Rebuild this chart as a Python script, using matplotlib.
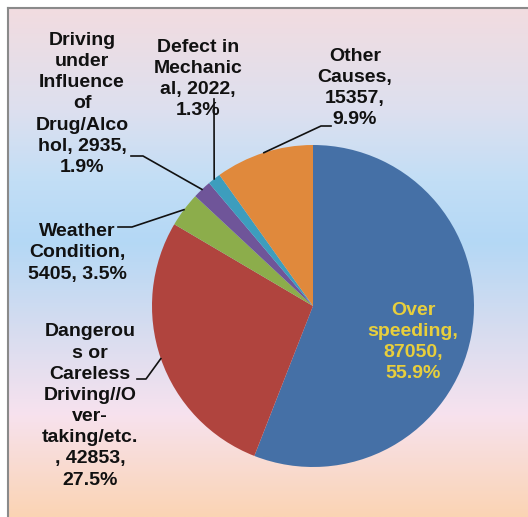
import numpy as np
import matplotlib
matplotlib.use("Agg")
import matplotlib.pyplot as plt
from matplotlib.colors import LinearSegmentedColormap

# datos del grafico
causas = ["Over speeding", "Dangerous or Careless Driving//Over-taking/etc.",
          "Weather Condition", "Driving under Influence of Drug/Alcohol",
          "Defect in Mechanical", "Other Causes"]
accidentes = [87050, 42853, 5405, 2935, 2022, 15357]
porcentajes = ["55.9%", "27.5%", "3.5%", "1.9%", "1.3%", "9.9%"]
etiquetas = ["Over\nspeeding,\n87050,\n55.9%",
             "Dangerou\ns or\nCareless\nDriving//O\nver-\ntaking/etc.\n, 42853,\n27.5%",
             "Weather\nCondition,\n5405, 3.5%",
             "Driving\nunder\nInfluence\nof\nDrug/Alco\nhol, 2935,\n1.9%",
             "Defect in\nMechanic\nal, 2022,\n1.3%",
             "Other\nCauses,\n15357,\n9.9%"]
colores = ["#4570a6", "#b0443e", "#8cad4b", "#6f5599", "#3d9dbd", "#e0893c"]

W, H = 528, 517
plt.rcParams["font.family"] = ["Liberation Sans", "DejaVu Sans"]

fig = plt.figure(figsize=(W / 100, H / 100), dpi=100)
fig.patch.set_facecolor("white")
ax = fig.add_axes([0, 0, 1, 1])

# fondo degradado (de arriba hacia abajo)
fondo = LinearSegmentedColormap.from_list("fondo", [
    (0.0, "#f2dce0"), (0.2, "#dde0ef"), (0.34, "#c2def6"), (0.46, "#b4d8f5"),
    (0.62, "#d4dcf0"), (0.8, "#f7e2ee"), (1.0, "#fbd4b4")])
grad = np.linspace(0, 1, 256).reshape(-1, 1)
ax.imshow(grad, cmap=fondo, extent=[8, W, 0, H - 8], aspect="auto", zorder=0)
ax.plot([8, 8], [0, H - 8], color="#8a8a8a", lw=1.5, zorder=1)
ax.plot([8, W], [H - 8, H - 8], color="#8a8a8a", lw=1.5, zorder=1)

# torta
cx, cy, r = 313, 211, 161
wedges, _ = ax.pie(accidentes, colors=colores, startangle=90, counterclock=False,
                   center=(cx, cy), radius=r, frame=True,
                   wedgeprops=dict(linewidth=0))

estilo = dict(fontsize=14, fontweight="bold", ha="center", va="center",
              linespacing=1.32, zorder=5)

# posiciones de etiquetas y quiebre de la linea guia (en pixeles, y desde abajo)
pos_texto = [(413, 175), (90, 111), (77, 264), (82, 413), (198, 438), (355, 429)]
guias = [None,
         [(137, 138), (146, 138)],
         [(118, 290), (132, 290)],
         [(131, 361), (143, 361)],
         [(214, 418)],
         [(331, 391), (321, 391)]]

for i, w in enumerate(wedges):
    x, y = pos_texto[i]
    color = "#e8cf3c" if i == 0 else "#111111"
    ax.text(x, y, etiquetas[i], color=color, **estilo)
    if guias[i] is not None:
        ang = np.deg2rad((w.theta1 + w.theta2) / 2)
        px, py = cx + r * np.cos(ang), cy + r * np.sin(ang)
        xs = [p[0] for p in guias[i]] + [px]
        ys = [p[1] for p in guias[i]] + [py]
        ax.plot(xs, ys, color="#111111", lw=1.2, zorder=4)

ax.set_xlim(0, W)
ax.set_ylim(0, H)
ax.axis("off")

plt.savefig("out.png", dpi=100)
plt.close()
